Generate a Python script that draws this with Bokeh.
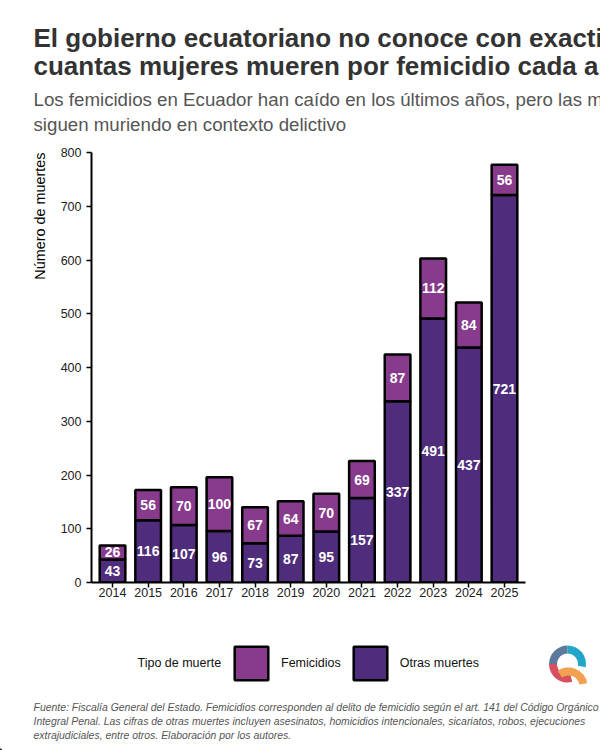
from bokeh.core.properties import value
from bokeh.layouts import column
from bokeh.plotting import figure
from bokeh.models import (ColumnDataSource, FactorRange, Range1d, FixedTicker, Legend, LegendItem,
                          LabelSet, Label, Title)
from bokeh.embed import file_html
from bokeh.resources import INLINE

years = ["2014","2015","2016","2017","2018","2019","2020","2021","2022","2023","2024","2025"]
otras = [43,116,107,96,73,87,95,157,337,491,437,721]
femicidios = [26,56,70,100,67,64,70,69,87,112,84,56]
y_ticks = [0,100,200,300,400,500,600,700,800]
title_lines = ["El gobierno ecuatoriano no conoce con exactitud", "cuantas mujeres mueren por femicidio cada año"]
subtitle_lines = ["Los femicidios en Ecuador han caído en los últimos años, pero las mujeres", "siguen muriendo en contexto delictivo"]
note_lines = ["Fuente: Fiscalía General del Estado. Femicidios corresponden al delito de femicidio según el art. 141 del Código Orgánico",
              "Integral Penal. Las cifras de otras muertes incluyen asesinatos, homicidios intencionales, sicariatos, robos, ejecuciones",
              "extrajudiciales, entre otros. Elaboración por los autores."]
COL_FEM = "#883a8c"
COL_OTR = "#4f2d7c"
FONT = "Liberation Sans"
W = 600
HEAD_H, CHART_H, FOOT_H = 140, 470, 140

def canvas_fig(h):
    q = figure(width=W, height=h, output_backend="svg", toolbar_location=None,
               x_range=Range1d(0, W), y_range=Range1d(0, h), x_axis_location=None, y_axis_location=None,
               min_border=0, background_fill_color="white", border_fill_color="white", frame_align=False)
    q.outline_line_color = None
    q.grid.visible = False
    return q

def put(q, t, x, y, size, color, style="normal", baseline="alphabetic"):
    q.add_layout(Label(x=x, y=y, text=t, text_font=FONT, text_font_size=size, text_color=color,
                       text_font_style=style, text_baseline=baseline))

head = canvas_fig(HEAD_H)
for t, b in zip(title_lines, (37.5, 65)):
    put(head, t, 33, HEAD_H - b, "26px", "#333333", "bold")
for t, b in zip(subtitle_lines, (99, 124)):
    put(head, t, 33, HEAD_H - b, "18.7px", "#555555")

src = ColumnDataSource(dict(
    year=years, otras=otras, femicidios=femicidios,
    total=[a+b for a,b in zip(otras,femicidios)],
    mid_o=[a/2 for a in otras], mid_f=[a+b/2 for a,b in zip(otras,femicidios)],
    lab_o=[str(v) for v in otras], lab_f=[str(v) for v in femicidios]))

p = figure(width=W, height=CHART_H, output_backend="svg", toolbar_location=None,
           x_range=FactorRange(factors=years, range_padding=0.09, range_padding_units="absolute"),
           y_range=Range1d(0, 800), frame_width=434, frame_height=430, frame_align=False,
           min_border_left=91, min_border_right=75, min_border_top=12, min_border_bottom=28,
           background_fill_color="white", border_fill_color="white")
p.outline_line_color = None
p.grid.visible = False

p.vbar(x="year", bottom=0, top="otras", width=0.72, source=src, fill_color=COL_OTR, line_color="black", line_width=2.5)
p.vbar(x="year", bottom="otras", top="total", width=0.72, source=src, fill_color=COL_FEM, line_color="black", line_width=2.5)

for col, lab in (("mid_o","lab_o"),("mid_f","lab_f")):
    p.add_layout(LabelSet(x="year", y=col, text=lab, source=src, text_color="white", text_align="center",
                          text_baseline="middle", text_font=value(FONT), text_font_style="bold", text_font_size="14px"))

p.yaxis.ticker = FixedTicker(ticks=y_ticks)
for ax in (p.xaxis[0], p.yaxis[0]):
    ax.axis_line_color = "black"; ax.axis_line_width = 2
    ax.major_tick_line_color = "black"; ax.major_tick_line_width = 1.5
    ax.major_tick_in = 0; ax.major_tick_out = 5
    ax.minor_tick_line_color = None
    ax.major_label_text_font = FONT; ax.major_label_text_font_size = "12.5px"; ax.major_label_text_color = "#222222"
p.yaxis.major_label_standoff = 5
p.xaxis.major_label_standoff = 0

p.add_layout(Title(text="Número de muertes", align="right", offset=0, text_font=FONT, text_font_size="14.4px",
                   text_color="#000000", text_font_style="normal", standoff=20), "left")

foot = canvas_fig(FOOT_H)
# legend keys: off-range stand-ins so the keys carry the bars' style
r_f = foot.vbar(x=[-100], bottom=[0], top=[1], width=1, fill_color=COL_FEM, line_color="black", line_width=2.5)
r_o = foot.vbar(x=[-100], bottom=[0], top=[1], width=1, fill_color=COL_OTR, line_color="black", line_width=2.5)
legend = Legend(items=[LegendItem(label="Femicidios", renderers=[r_f]), LegendItem(label="Otras muertes", renderers=[r_o])],
                orientation="horizontal", location=(230, 66),
                padding=0, margin=0, spacing=8, glyph_width=42, glyph_height=42, label_standoff=9,
                border_line_color=None, background_fill_alpha=0,
                label_text_font=FONT, label_text_font_size="12.5px", label_text_color="#111111")
foot.add_layout(legend, "center")
put(foot, "Tipo de muerte", 137, 88, "12.5px", "#111111", baseline="middle")

for t, b in zip(note_lines, (97, 111, 125)):
    put(foot, t, 33, FOOT_H - b, "10.45px", "#555555", "italic")

# logo
wedge = dict(start_angle_units="deg", end_angle_units="deg", line_color=None)
cx, cy = 567, FOOT_H - 53.5
foot.annular_wedge(x=[cx], y=[cy], inner_radius=10.5, outer_radius=18.5, start_angle=-10, end_angle=90, fill_color="#1fa6c9", **wedge)
foot.annular_wedge(x=[cx], y=[cy], inner_radius=10.5, outer_radius=18.5, start_angle=90, end_angle=180, fill_color="#5c7a9c", **wedge)
foot.annular_wedge(x=[cx], y=[cy], inner_radius=10.5, outer_radius=18.5, start_angle=180, end_angle=285, fill_color="#d8505f", **wedge)
foot.annular_wedge(x=[568], y=[FOOT_H - 76], inner_radius=11, outer_radius=19, start_angle=10, end_angle=125, fill_color="#f2a150", **wedge)

page = column(head, p, foot, spacing=0)
open("out.html", "w").write(file_html(page, INLINE))
